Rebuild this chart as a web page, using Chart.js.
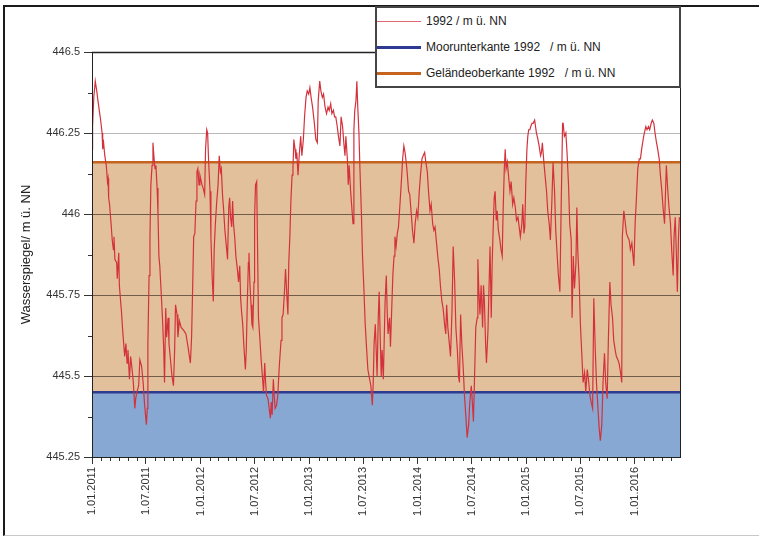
<!DOCTYPE html>
<html lang="de">
<head>
<meta charset="utf-8">
<title>Wasserspiegel 1992</title>
<script src="https://cdn.jsdelivr.net/npm/chart.js@4.4.1/dist/chart.umd.min.js"></script>
<style>
  html, body { margin: 0; padding: 0; background: #fff; overflow: hidden; }
  body { position: relative; width: 759px; height: 537px; font-family: 'Liberation Sans', Arial, sans-serif; }
  .frame {
    position: absolute; left: 3px; top: 5px; width: 800px; height: 528px;
    border-top: 2px solid #1a1a1a; border-left: 2px solid #1a1a1a; border-bottom: 1px solid #c8c8c8;
  }
  #chart { position: absolute; left: 0; top: 0; }
  .legend {
    position: absolute; left: 375px; top: 6px; width: 302px; height: 78px;
    border: 2px solid #444; background: #fff;
  }
  .legend .row {
    position: absolute; left: 0; height: 26px; display: flex; align-items: center;
    font-size: 12px; color: #222; white-space: pre;
  }
  .legend .swatch { width: 44px; margin-right: 5px; }
</style>
</head>
<body>
<div class="frame"></div>
<canvas id="chart" width="759" height="537"></canvas>
<div class="legend" id="legend"></div>
<script>
// Pegel 1992, Tage ab 1.01.2011 und Wasserspiegel in m ü. NN
const DAY = [
  0, 2, 6, 11, 16, 20, 26, 29, 34, 36, 38, 43, 48, 52, 54, 56, 59, 65, 68, 72,
  74, 77, 83, 85, 90, 92, 99, 104, 110, 114, 118, 121, 126, 130, 135, 139, 144, 147, 151, 157,
  161, 167, 172, 177, 183, 186, 188, 192, 195, 198, 202, 205, 209, 212, 215, 219, 222, 225, 228, 232,
  237, 241, 244, 248, 251, 256, 259, 263, 269, 274, 278, 281, 286, 289, 294, 300, 309, 316, 323, 331,
  335, 339, 342, 346, 350, 353, 356, 360, 363, 370, 374, 379, 382, 386, 389, 392, 397, 400, 404, 408,
  411, 415, 419, 424, 428, 432, 435, 439, 443, 447, 453, 456, 460, 463, 466, 470, 473, 476, 480, 484,
  489, 493, 497, 500, 503, 507, 511, 516, 519, 522, 526, 528, 531, 535, 538, 541, 545, 547, 550, 554,
  557, 560, 565, 569, 574, 577, 581, 584, 587, 592, 596, 600, 603, 606, 610, 613, 616, 621, 625, 630,
  636, 639, 643, 648, 651, 656, 659, 662, 666, 669, 673, 676, 679, 683, 686, 689, 693, 697, 702, 706,
  711, 715, 720, 724, 729, 733, 737, 742, 748, 753, 758, 761, 766, 770, 775, 779, 784, 789, 794, 798,
  803, 807, 812, 816, 820, 825, 829, 834, 838, 843, 847, 851, 854, 859, 862, 865, 870, 874, 878, 881,
  884, 888, 891, 894, 898, 901, 906, 910, 915, 919, 924, 928, 934, 938, 943, 946, 949, 953, 956, 959,
  963, 966, 970, 973, 976, 980, 983, 986, 990, 993, 996, 1001, 1004, 1008, 1012, 1016, 1019, 1023, 1027, 1031,
  1036, 1040, 1045, 1049, 1053, 1057, 1060, 1065, 1069, 1074, 1078, 1083, 1087, 1092, 1096, 1101, 1105, 1110, 1114, 1119,
  1123, 1128, 1132, 1137, 1141, 1146, 1150, 1154, 1159, 1163, 1168, 1172, 1177, 1181, 1186, 1190, 1193, 1197, 1201, 1206,
  1211, 1215, 1220, 1224, 1229, 1233, 1236, 1240, 1244, 1249, 1253, 1258, 1262, 1267, 1271, 1276, 1280, 1283, 1287, 1291,
  1296, 1298, 1301, 1305, 1309, 1314, 1317, 1320, 1324, 1327, 1332, 1336, 1339, 1343, 1346, 1350, 1353, 1356, 1360, 1363,
  1367, 1372, 1376, 1380, 1383, 1387, 1390, 1393, 1397, 1401, 1406, 1410, 1415, 1419, 1424, 1428, 1433, 1437, 1441, 1446,
  1449, 1453, 1456, 1459, 1463, 1466, 1469, 1473, 1476, 1480, 1484, 1489, 1492, 1495, 1500, 1504, 1509, 1512, 1515, 1520,
  1524, 1529, 1533, 1538, 1542, 1547, 1551, 1556, 1560, 1565, 1569, 1574, 1578, 1583, 1585, 1589, 1594, 1598, 1603, 1607,
  1612, 1615, 1619, 1623, 1628, 1631, 1634, 1639, 1643, 1648, 1652, 1657, 1661, 1666, 1670, 1675, 1679, 1684, 1688, 1693,
  1697, 1702, 1706, 1710, 1715, 1719, 1724, 1728, 1733, 1737, 1742, 1746, 1751, 1755, 1760, 1764, 1769, 1773, 1778, 1782,
  1784, 1789, 1793, 1798, 1802, 1807, 1811, 1816, 1820, 1823, 1827, 1832, 1836, 1841, 1845, 1849, 1854, 1858, 1863, 1867,
  1872, 1876, 1881, 1885, 1890, 1894, 1899, 1903, 1908, 1912, 1917, 1921, 1926, 1930, 1932, 1937, 1941, 1946, 1950, 1955,
  1958, 1962, 1966, 1969, 1973, 1976,
];
const LEVEL = [
  446.20, 446.27, 446.36, 446.41, 446.38, 446.35, 446.31, 446.29, 446.25, 446.20, 446.23, 446.18, 446.15, 446.10, 446.11, 446.05, 446.03, 445.96, 445.92, 445.89,
  445.93, 445.86, 445.85, 445.80, 445.88, 445.78, 445.70, 445.63, 445.56, 445.60, 445.54, 445.58, 445.49, 445.56, 445.52, 445.48, 445.40, 445.43, 445.45, 445.47,
  445.55, 445.53, 445.48, 445.41, 445.35, 445.40, 445.60, 445.81, 445.93, 446.09, 446.15, 446.22, 446.17, 446.14, 446.15, 446.08, 446.00, 445.87, 445.84, 445.77,
  445.68, 445.59, 445.48, 445.71, 445.62, 445.68, 445.60, 445.56, 445.50, 445.47, 445.58, 445.72, 445.69, 445.62, 445.67, 445.65, 445.64, 445.63, 445.59, 445.54,
  445.62, 445.79, 445.93, 445.94, 446.04, 446.13, 446.14, 446.09, 446.12, 446.09, 446.08, 446.06, 446.20, 446.26, 446.25, 446.17, 446.07, 445.93, 445.81, 445.73,
  445.89, 445.97, 446.03, 446.09, 446.18, 446.13, 446.14, 446.06, 446.01, 445.95, 445.89, 445.86, 446.02, 446.05, 445.99, 445.96, 446.04, 445.97, 445.93, 445.87,
  445.83, 445.79, 445.84, 445.74, 445.70, 445.66, 445.59, 445.52, 445.58, 445.71, 445.85, 445.88, 445.79, 445.72, 445.66, 445.65, 445.79, 445.99, 446.09, 446.10,
  445.89, 445.68, 445.61, 445.55, 445.49, 445.45, 445.54, 445.48, 445.44, 445.43, 445.40, 445.37, 445.42, 445.38, 445.49, 445.44, 445.40, 445.41, 445.44, 445.53,
  445.61, 445.68, 445.69, 445.77, 445.83, 445.74, 445.69, 445.85, 445.94, 446.04, 446.12, 446.14, 446.23, 446.20, 446.17, 446.19, 446.12, 446.18, 446.24, 446.18,
  446.23, 446.30, 446.36, 446.38, 446.37, 446.39, 446.36, 446.33, 446.28, 446.23, 446.22, 446.35, 446.41, 446.38, 446.36, 446.37, 446.33, 446.31, 446.33, 446.32,
  446.34, 446.31, 446.32, 446.30, 446.30, 446.27, 446.24, 446.21, 446.30, 446.27, 446.22, 446.18, 446.24, 446.17, 446.09, 446.15, 446.07, 446.02, 445.97, 446.26,
  446.32, 446.35, 446.41, 446.33, 446.25, 446.15, 446.01, 445.87, 445.76, 445.66, 445.58, 445.52, 445.49, 445.47, 445.41, 445.48, 445.60, 445.66, 445.58, 445.50,
  445.68, 445.76, 445.60, 445.50, 445.58, 445.49, 445.61, 445.73, 445.81, 445.70, 445.63, 445.68, 445.59, 445.70, 445.81, 445.87, 445.93, 445.90, 445.94, 445.96,
  446.03, 446.09, 446.17, 446.21, 446.19, 446.16, 446.13, 446.07, 446.06, 446.00, 445.95, 445.91, 445.97, 446.01, 445.99, 446.07, 446.12, 446.17, 446.18, 446.19,
  446.16, 446.13, 446.07, 446.01, 446.03, 445.97, 445.95, 445.96, 445.91, 445.87, 445.83, 445.78, 445.73, 445.71, 445.66, 445.63, 445.72, 445.65, 445.61, 445.56,
  445.70, 445.90, 445.79, 445.65, 445.58, 445.50, 445.48, 445.69, 445.60, 445.52, 445.44, 445.37, 445.31, 445.35, 445.42, 445.47, 445.41, 445.36, 445.50, 445.65,
  445.68, 445.86, 445.77, 445.69, 445.78, 445.65, 445.78, 445.73, 445.60, 445.54, 445.64, 445.79, 445.90, 445.68, 445.84, 445.97, 446.05, 446.07, 445.98, 446.01,
  445.95, 445.92, 445.89, 445.87, 446.01, 446.14, 446.20, 446.14, 446.16, 446.12, 446.07, 446.10, 446.03, 446.05, 446.02, 445.98, 445.99, 445.96, 445.93, 445.97,
  446.03, 445.94, 445.96, 446.09, 446.20, 446.24, 446.26, 446.26, 446.27, 446.28, 446.28, 446.29, 446.27, 446.25, 446.23, 446.21, 446.18, 446.19, 446.22, 446.16,
  446.12, 446.07, 446.01, 445.97, 445.92, 446.04, 446.16, 446.07, 445.95, 445.87, 445.81, 445.76, 446.01, 446.28, 446.28, 446.24, 446.25, 446.19, 446.09, 445.97,
  445.92, 445.68, 445.87, 445.77, 445.85, 446.02, 445.89, 445.79, 445.66, 445.56, 445.48, 445.51, 445.45, 445.52, 445.49, 445.44, 445.42, 445.40, 445.74, 445.58,
  445.48, 445.40, 445.34, 445.30, 445.35, 445.48, 445.57, 445.48, 445.43, 445.61, 445.79, 445.72, 445.68, 445.61, 445.58, 445.56, 445.55, 445.54, 445.51, 445.48,
  445.93, 446.01, 445.98, 445.94, 445.93, 445.92, 445.89, 445.91, 445.87, 445.84, 445.97, 446.06, 446.14, 446.17, 446.17, 446.20, 446.23, 446.25, 446.27, 446.26,
  446.27, 446.26, 446.28, 446.29, 446.28, 446.25, 446.22, 446.20, 446.17, 446.12, 446.07, 446.02, 445.97, 446.09, 446.15, 446.07, 446.02, 445.97, 445.89, 445.81,
  445.93, 445.99, 445.87, 445.76, 445.93, 445.99,
];

// Referenzhöhen 1992
const MOORUNTERKANTE = 445.45;
const GELAENDEOBERKANTE = 446.16;

const X_TICK_LABELS = [
  '1.01.2011', '1.07.2011', '1.01.2012', '1.07.2012', '1.01.2013', '1.07.2013',
  '1.01.2014', '1.07.2014', '1.01.2015', '1.07.2015', '1.01.2016',
];
const X_END = '1.06.2016';
const Y_TICKS = [445.25, 445.5, 445.75, 446, 446.25, 446.5];
const Y_MINOR = [445.375, 445.625, 445.875, 446.125, 446.375];

const SERIES_LABELS = ['1992 / m ü. NN', 'Moorunterkante 1992   / m ü. NN', 'Geländeoberkante 1992   / m ü. NN'];

const FONT = "'Liberation Sans', Arial, sans-serif";
const RED = '#d3323c';
const BLUE = '#2c3a92';
const ORANGE = '#c6641f';

const DAY0 = Date.UTC(2011, 0, 1);
function toDay(s) {
  const [d, m, y] = s.split('.').map(Number);
  return Math.round((Date.UTC(y, m - 1, d) - DAY0) / 864e5);
}

const X_TICKS = X_TICK_LABELS.map(toDay);
const X_MAX = toDay(X_END);

// Monatsanfänge ohne Beschriftung (kleine Teilstriche)
const MONTHS = [];
for (let y = 2011; y <= 2016; y++) {
  for (let m = 1; m <= 12; m++) {
    const d = toDay(`1.${m}.${y}`);
    if (d > 0 && d < X_MAX && !X_TICKS.includes(d)) MONTHS.push(d);
  }
}

const flat = (v) => [{ x: 0, y: v }, { x: X_MAX, y: v }];

const frameAndMinorTicks = {
  id: 'frameAndMinorTicks',
  afterDraw(chart) {
    const { ctx, chartArea: a, scales: { x, y } } = chart;
    ctx.save();
    ctx.strokeStyle = '#333';
    ctx.lineWidth = 1;
    ctx.beginPath();
    Y_MINOR.forEach((v) => {
      const py = Math.round(y.getPixelForValue(v)) + 0.5;
      ctx.moveTo(a.left - 4, py);
      ctx.lineTo(a.left, py);
    });
    MONTHS.forEach((d) => {
      const px = Math.round(x.getPixelForValue(d)) + 0.5;
      ctx.moveTo(px, a.bottom);
      ctx.lineTo(px, a.bottom + 4);
    });
    ctx.stroke();

    ctx.strokeStyle = '#222';
    ctx.strokeRect(Math.round(a.left) + 0.5, Math.round(a.top) + 0.5, Math.round(a.right - a.left), Math.round(a.bottom - a.top));
    ctx.lineWidth = 1.5;
    ctx.beginPath();
    ctx.moveTo(a.left, Math.round(a.top) + 0.5);
    ctx.lineTo(a.right, Math.round(a.top) + 0.5);
    ctx.stroke();
    ctx.restore();
  },
};

const chart = new Chart(document.getElementById('chart'), {
  type: 'line',
  data: {
    datasets: [
      {
        label: SERIES_LABELS[0],
        data: DAY.map((d, i) => ({ x: d, y: LEVEL[i] })),
        borderColor: RED,
        borderWidth: 1.2,
        pointRadius: 0,
        tension: 0,
        fill: false,
      },
      {
        label: SERIES_LABELS[1],
        data: flat(MOORUNTERKANTE),
        borderColor: BLUE,
        borderWidth: 2.5,
        pointRadius: 0,
        backgroundColor: '#87a8d3',
        fill: 'start',
      },
      {
        label: SERIES_LABELS[2],
        data: flat(GELAENDEOBERKANTE),
        borderColor: ORANGE,
        borderWidth: 2.5,
        pointRadius: 0,
        backgroundColor: '#e3c09c',
        fill: { value: MOORUNTERKANTE },
      },
    ],
  },
  options: {
    responsive: false,
    animation: false,
    events: [],
    layout: { padding: { top: 52, right: 79, left: 8, bottom: 0 } },
    plugins: {
      legend: { display: false },
      tooltip: { enabled: false },
      filler: { drawTime: 'beforeDraw' },
    },
    scales: {
      x: {
        type: 'linear',
        min: 0,
        max: X_MAX,
        afterBuildTicks: (s) => { s.ticks = X_TICKS.map((v) => ({ value: v })); },
        afterFit: (s) => { s.height = 80; },
        border: { display: false },
        grid: { drawOnChartArea: false, drawTicks: true, tickLength: 7, tickColor: '#333' },
        ticks: {
          autoSkip: false,
          minRotation: 90,
          maxRotation: 90,
          padding: 3,
          color: '#333',
          font: { family: FONT, size: 11 },
          callback: (v) => X_TICK_LABELS[X_TICKS.indexOf(v)] ?? '',
        },
      },
      y: {
        min: 445.25,
        max: 446.5,
        afterBuildTicks: (s) => { s.ticks = Y_TICKS.map((v) => ({ value: v })); },
        afterFit: (s) => { s.width = 84; },
        border: { display: false },
        grid: {
          color: (c) => (c.tick && c.tick.value >= 446.25 ? '#b9b9b9' : '#6f5c49'),
          tickLength: 8,
          tickColor: '#333',
        },
        ticks: {
          padding: 4,
          color: '#333',
          font: { family: FONT, size: 11 },
          callback: (v) => String(v),
        },
        title: {
          display: true,
          text: 'Wasserspiegel/ m ü. NN',
          color: '#222',
          font: { family: FONT, size: 13 },
          padding: { top: 11, bottom: 0 },
        },
      },
    },
  },
  plugins: [frameAndMinorTicks],
});

// Legende als Kasten oben rechts
const legend = document.getElementById('legend');
chart.data.datasets.forEach((ds, i) => {
  const row = document.createElement('div');
  row.className = 'row';
  row.style.top = `${i * 26}px`;
  const sw = document.createElement('span');
  sw.className = 'swatch';
  sw.style.borderTop = `${i === 0 ? 1 : 3}px solid ${i === 0 ? '#e06872' : ds.borderColor}`;
  row.appendChild(sw);
  row.appendChild(document.createTextNode(ds.label));
  legend.appendChild(row);
});
</script>
</body>
</html>
